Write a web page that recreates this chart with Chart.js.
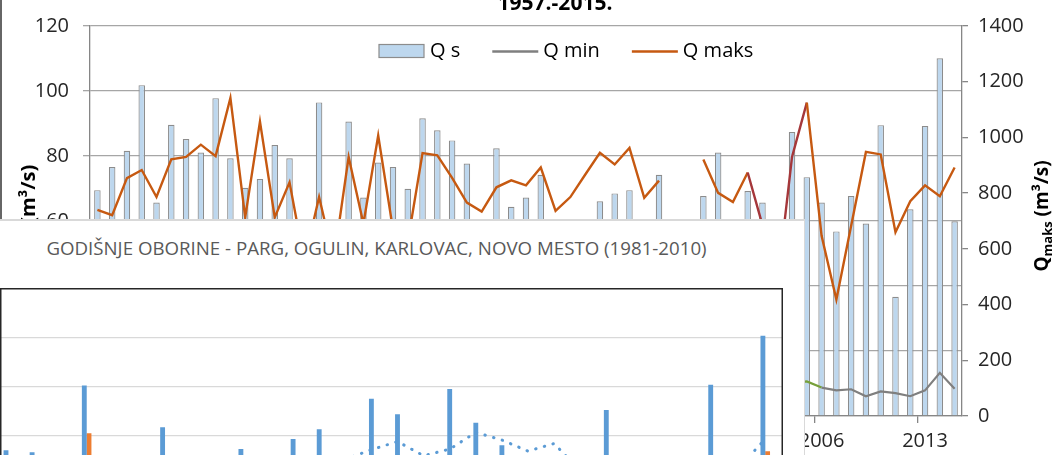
<!DOCTYPE html>
<html>
<head>
<meta charset="utf-8">
<script src="https://cdn.jsdelivr.net/npm/chart.js@4.4.1/dist/chart.umd.min.js"></script>
<style>
    body { margin: 0; background: #fff; }
    #wrap { position: relative; width: 1058px; height: 455px; overflow: hidden; }
    #flowChart { position: absolute; left: 0; top: 0; }
    #title1 { position: absolute; left: 455px; top: -8px; width: 200px; text-align: center;
        font: bold 21px "Open Sans"; line-height: 21px; color: #000; white-space: nowrap; }
    #leftEdge { position: absolute; left: 0; top: 0; width: 2px; height: 219px; background: #666; }
    #panel { position: absolute; left: 0; top: 219px; width: 805px; height: 236px; box-sizing: border-box;
        background: #fff; border-top: 2px solid #d9d9d9; border-right: 1px solid #d9d9d9; overflow: hidden; }
    #title2 { position: absolute; left: 0; top: 15.5px; width: 753px; text-align: center;
        font: 18.7px "Open Sans"; line-height: 22px; color: #595959; white-space: nowrap; }
    #rainChart { position: absolute; left: 0; top: 67px; }
</style>
</head>
<body>
<div id="wrap">
    <canvas id="flowChart" width="1058" height="455"></canvas>
    <div id="title1">1957.-2015.</div>
    <div id="leftEdge"></div>
    <div id="panel">
        <div id="title2">GODIŠNJE OBORINE - PARG, OGULIN, KARLOVAC, NOVO MESTO (1981-2010)</div>
        <canvas id="rainChart" width="783" height="345"></canvas>
    </div>
</div>
<script>
// Protoci 1957-2015
const years = Array.from({ length: 59 }, (_, i) => String(1957 + i));
const xTickYears = ['1957', '1964', '1971', '1978', '1985', '1992', '1999', '2006', '2013'];

const qSrednji = [
    69.5, 76.6, 81.6, 101.8, 65.7, 89.6, 85.2, 81.1, 97.8, 79.3,
    70.2, 72.9, 83.4, 79.3, 55, 96.5, 56, 90.6, 67.2, 78.0,
    76.6, 69.9, 91.6, 87.9, 84.8, 77.7, 57, 82.4, 64.4, 67.2,
    74.2, 52, 55, 50, 66.1, 68.5, 69.5, 58, 74.2, 54,
    56, 67.7, 81.1, 60.3, 69.2, 65.7, 55, 87.4, 73.5, 65.7,
    56.8, 67.7, 59.2, 89.5, 36.7, 63.6, 89.2, 110.1, 59.9
];
const qMin = [
    98, 85, 112, 120, 76, 104, 95, 110, 130, 92,
    80, 88, 101, 94, 72, 118, 70, 106, 83, 90,
    87, 74, 115, 108, 96, 84, 68, 99, 77, 81,
    86, 66, 71, 64, 79, 82, 88, 73, 91, 69,
    75, 80, 97, 78, 84, 81, 70, 118, 124, 102,
    92, 96, 71, 88, 82, 71, 92, 155, 98
];
const qMaks = [
    740, 721, 854, 883, 786, 921, 930, 974, 933, 1142,
    713, 1057, 713, 839, 555, 786, 560, 930, 690, 1007,
    670, 625, 944, 936, 855, 766, 734, 821, 846, 828,
    892, 736, 786, 866, 945, 903, 962, 783, 845, null,
    null, 921, 801, 768, 874, 685, 470, 930, 1125, 647,
    418, 683, 948, 939, 660, 771, 828, 789, 892
];

// Oborine 1981-2010
const rainYears = Array.from({ length: 30 }, (_, i) => String(1981 + i));
const oborineParg = [
    1850, 1830, 1700, 2507, 1650, 1720, 2083, 1600, 1740, 1863,
    1680, 1966, 2063, 1760, 2374, 2217, 1700, 2473, 2130, 1901,
    1690, 1750, 1620, 2258, 1730, 1640, 1710, 2514, 1680, 3013
];
const oborineOgulin = [
    1520, 1480, 1390, 2022, 1350, 1410, 1600, 1300, 1440, 1510,
    1380, 1560, 1620, 1450, 1700, 1650, 1390, 1720, 1600, 1530,
    1400, 1470, 1330, 1680, 1420, 1360, 1440, 1760, 1400, 1840
];
const oborineKarlovac = [
    1080, 1120, 1010, 1290, 1050, 1100, 1180, 990, 1060, 1130,
    1040, 1150, 1210, 1070, 1260, 1230, 1020, 1300, 1190, 1110,
    1030, 1090, 960, 1240, 1070, 1010, 1080, 1330, 1050, 1380
];
const oborineNovoMesto = [
    1190, 1230, 1120, 1380, 1150, 1200, 1270, 1090, 1160, 1220,
    1140, 1250, 1300, 1170, 1350, 1310, 1120, 1400, 1280, 1210,
    1130, 1190, 1060, 1330, 1170, 1110, 1180, 1420, 1150, 1450
];
const pargTrend = [
    null, 1740, 1765, 1720, 1700, 1690, 1740, 1710, 1680, 1700,
    1720, 1740, 1700, 1762, 1860, 1942, 1799, 1865, 2035, 1958,
    1845, 1922, 1645, 1700, 1740, 1690, 1660, 1720, 1655, 1942
];

const FONT = '"Open Sans"';
const qMaksDarkSeg = [44, 45, 46, 47];
const qMinGreenSeg = [47, 48];

function drawRotated(ctx, cx, cy, parts) {
    ctx.save();
    ctx.translate(cx, cy);
    ctx.rotate(-Math.PI / 2);
    let total = 0;
    parts.forEach(p => { ctx.font = p.font; p.w = ctx.measureText(p.text).width; total += p.w; });
    let x = -total / 2;
    ctx.fillStyle = '#000';
    ctx.textBaseline = 'alphabetic';
    parts.forEach(p => { ctx.font = p.font; ctx.fillText(p.text, x, p.dy); x += p.w; });
    ctx.restore();
}

const flowDecor = {
    id: 'flowDecor',
    afterDraw(chart) {
        const ctx = chart.ctx;
        const ds = chart.data.datasets;
        // legend inside plot
        ctx.save();
        ctx.font = '20px ' + FONT;
        ctx.textBaseline = 'middle';
        let x = 379;
        const y = 51;
        ds.forEach(d => {
            if (d.type === 'bar') {
                ctx.fillStyle = d.backgroundColor;
                ctx.fillRect(x, y - 6.5, 45, 13);
                ctx.strokeStyle = d.borderColor;
                ctx.lineWidth = 1.2;
                ctx.strokeRect(x, y - 6.5, 45, 13);
            } else {
                ctx.strokeStyle = d.borderColor;
                ctx.lineWidth = 2.4;
                ctx.beginPath();
                ctx.moveTo(x, y + 0.5);
                ctx.lineTo(x + 46, y + 0.5);
                ctx.stroke();
            }
            ctx.fillStyle = '#000';
            ctx.fillText(d.label, x + 51, y);
            x += 51 + ctx.measureText(d.label).width + 32;
        });
        ctx.restore();

        // axis titles
        drawRotated(ctx, 29, 208, [
            { text: 'Q', font: 'bold 20px ' + FONT, dy: 6 },
            { text: 's', font: 'bold 13px ' + FONT, dy: 10 },
            { text: ' (m³/s)', font: 'bold 20px ' + FONT, dy: 6 }
        ]);
        drawRotated(ctx, 1041, 216, [
            { text: 'Q', font: 'bold 19px ' + FONT, dy: 7 },
            { text: 'maks', font: 'bold 13px ' + FONT, dy: 11 },
            { text: ' (m³/s)', font: 'bold 19px ' + FONT, dy: 7 }
        ]);
    }
};

const tickFont = { family: FONT, size: 20 };

new Chart(document.getElementById('flowChart'), {
    data: {
        labels: years,
        datasets: [
            {
                type: 'bar', label: 'Q s', data: qSrednji, yAxisID: 'y',
                backgroundColor: '#BDD7EE', borderColor: '#8c8c8c', borderWidth: 1.2,
                categoryPercentage: 1, barPercentage: 0.44, order: 3
            },
            {
                type: 'line', label: 'Q min', data: qMin, yAxisID: 'y1',
                borderColor: '#7F7F7F', borderWidth: 2.2, pointRadius: 0, tension: 0, order: 2,
                segment: { borderColor: c => qMinGreenSeg.includes(c.p0DataIndex) ? '#77A03A' : undefined }
            },
            {
                type: 'line', label: 'Q maks', data: qMaks, yAxisID: 'y1',
                borderColor: '#C65911', borderWidth: 2.4, pointRadius: 0, tension: 0, spanGaps: false, order: 1,
                segment: { borderColor: c => qMaksDarkSeg.includes(c.p0DataIndex) ? '#A5373A' : undefined }
            }
        ]
    },
    options: {
        responsive: false,
        animation: false,
        layout: { padding: { top: 19, left: 0, right: 0, bottom: 0 } },
        plugins: { legend: { display: false }, tooltip: { enabled: false } },
        scales: {
            x: {
                offset: true,
                grid: {
                    offset: true, drawOnChartArea: false, tickLength: 7, lineWidth: 1.3,
                    color: c => xTickYears.includes(years[c.index]) ? '#868686' : 'rgba(0,0,0,0)'
                },
                border: { color: '#868686', width: 1.3 },
                ticks: {
                    autoSkip: false, maxRotation: 0, padding: 6, color: '#262626', font: tickFont,
                    callback: (v, i) => xTickYears.includes(years[i]) ? years[i] : ''
                },
                afterFit: s => { s.height = 39; }
            },
            y: {
                position: 'left', min: 0, max: 120,
                ticks: { stepSize: 20, padding: 14, color: '#262626', font: tickFont, callback: v => String(v) },
                grid: { color: '#a6a6a6', lineWidth: 1.3, tickLength: 7 },
                border: { color: '#868686', width: 1.3 },
                afterFit: s => { s.width = 90; }
            },
            y1: {
                position: 'right', min: 0, max: 1400,
                ticks: { stepSize: 200, padding: 10, color: '#262626', font: tickFont, callback: v => String(v) },
                grid: { drawOnChartArea: false, tickLength: 6, color: '#868686', lineWidth: 1.3 },
                border: { color: '#868686', width: 1.3 },
                afterFit: s => { s.width = 96; }
            }
        }
    },
    plugins: [flowDecor]
});

// second chart: 4 bars per year on a year-index axis, trend over the first bar
const barStep = 4.7;
const catPx = 783 / rainYears.length;
const slotShift = s => (s - 1.5) * barStep / catPx;
const atYear = (arr, s) => arr.map((v, i) => ({ x: i + slotShift(s), y: v }));

const plotBorder = {
    id: 'plotBorder',
    afterDraw(chart) {
        const a = chart.chartArea;
        const ctx = chart.ctx;
        ctx.save();
        ctx.strokeStyle = '#262626';
        ctx.lineWidth = 1.5;
        ctx.strokeRect(a.left + 0.75, a.top + 0.75, a.right - a.left - 1.5, a.bottom - a.top);
        ctx.restore();
    }
};

const barStyle = { barThickness: 4.2, grouped: false, borderWidth: 0, order: 1 };

new Chart(document.getElementById('rainChart'), {
    data: {
        datasets: [
            {
                type: 'line', label: 'Parg trend', data: atYear(pargTrend, 0),
                borderColor: '#5B9BD5', borderWidth: 3, borderDash: [0.5, 8.5], borderCapStyle: 'round',
                pointRadius: 0, tension: 0, order: 0
            },
            { type: 'bar', label: 'Parg', data: atYear(oborineParg, 0), backgroundColor: '#5B9BD5', ...barStyle },
            { type: 'bar', label: 'Ogulin', data: atYear(oborineOgulin, 1), backgroundColor: '#ED7D31', ...barStyle },
            { type: 'bar', label: 'Karlovac', data: atYear(oborineKarlovac, 2), backgroundColor: '#A5A5A5', ...barStyle },
            { type: 'bar', label: 'Novo mesto', data: atYear(oborineNovoMesto, 3), backgroundColor: '#FFC000', ...barStyle }
        ]
    },
    options: {
        responsive: false,
        animation: false,
        layout: { padding: 0 },
        plugins: { legend: { display: false }, tooltip: { enabled: false } },
        scales: {
            x: { type: 'linear', display: false, min: -0.5, max: 29.5, offset: false },
            y: {
                min: 0, max: 3500,
                ticks: { stepSize: 500, display: false },
                grid: { color: '#d9d9d9', lineWidth: 1.3, drawTicks: false },
                border: { display: false },
                afterFit: s => { s.width = 0; }
            }
        }
    },
    plugins: [plotBorder]
});
</script>
</body>
</html>
